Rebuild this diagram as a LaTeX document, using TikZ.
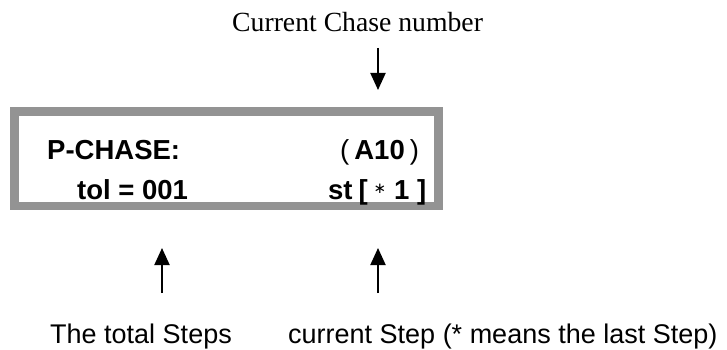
\documentclass[tikz,border=0pt]{standalone}
\usepackage{fontspec}
\setmainfont{Liberation Serif}
\setsansfont{Liberation Sans}
\newfontfamily\astfont{DejaVu Sans}
\usetikzlibrary{arrows.meta}
\definecolor{lcdgray}{RGB}{147,147,147}
\tikzset{lcd/.style={
  font=\sffamily\bfseries\fontsize{27.5}{30}\selectfont,
  inner sep=0pt,anchor=base west
}}
\tikzset{note/.style={
  font=\sffamily\fontsize{27}{30}\selectfont,
  inner sep=0pt,anchor=base west
}}
\tikzset{pointer/.style={
  line width=2pt,
  -{Triangle[width=15pt,length=17pt]}
}}

\begin{document}
\begin{tikzpicture}[x=1pt,y=-1pt]
    \useasboundingbox (0,0) rectangle (727,350);
    % Display frame
    \draw[lcdgray,line width=8.5pt]
      (14.5,111.5) rectangle (438.5,206);
    % Display text
    \node[lcd] (title) at (47,159) {P-CHASE:};
    \node[lcd] (chase) at (340,159)
      {\mdseries(\kern5pt\bfseries A10\kern5pt\mdseries)};
    \node[lcd] (total) at (77,199) {tol = 001};
    \node[lcd] (step) at (328,199) {st\kern6pt[};
    \node[lcd] (last) at (394,199) {1 ]};
    \node[font=\astfont\fontsize{15}{18}\selectfont,inner sep=0pt]
      (star) at (380,189) {∗};
    % Labels
    \node[font=\rmfamily\fontsize{27.7}{30}\selectfont,inner sep=0pt,
      anchor=base west] (chaselbl) at (232,32) {Current Chase number};
    \node[note] (totallbl) at (50,343) {The total Steps};
    \node[note] (steplbl) at (288,343)
      {current Step (* means the last Step)};
    % Pointers
    \coordinate (chasetail) at (378,48);
    \coordinate (chasetip) at (378,90);
    \coordinate (totaltail) at (162,293);
    \coordinate (totaltip) at (162,248);
    \coordinate (steptail) at (378,293);
    \coordinate (steptip) at (378,248);
    \draw[pointer] (chasetail) -- (chasetip);
    \draw[pointer] (totaltail) -- (totaltip);
    \draw[pointer] (steptail) -- (steptip);
\end{tikzpicture}
\end{document}
